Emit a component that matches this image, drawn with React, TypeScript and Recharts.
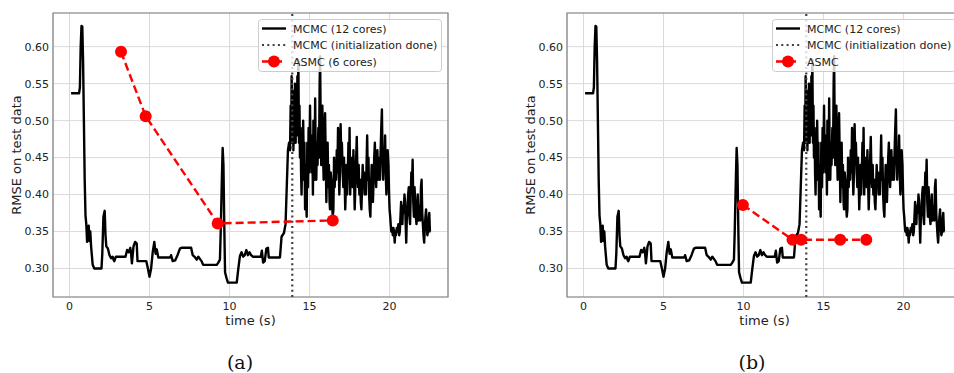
import React from 'react';
import { LineChart, Line, XAxis, YAxis, CartesianGrid, ReferenceLine, ReferenceArea, Legend } from 'recharts';

// MCMC (12 cores): [time (s), RMSE]
const mcmcPoints: [number, number][] = [
  [0.1,0.537],[0.6,0.537],[0.65,0.545],[0.7,0.6],[0.75,0.628],[0.8,0.627],[0.85,0.58],[0.9,0.5],[0.95,0.42],[1.0,0.372],
  [1.05,0.36],[1.1,0.336],[1.15,0.352],[1.2,0.358],[1.25,0.337],[1.3,0.35],[1.35,0.33],[1.45,0.305],[1.55,0.3],[2.0,0.3],
  [2.05,0.32],[2.12,0.37],[2.2,0.378],[2.25,0.345],[2.3,0.33],[2.4,0.327],[2.5,0.318],[2.6,0.314],[2.7,0.316],[2.75,0.312],
  [2.8,0.31],[2.9,0.316],[3.5,0.316],[3.6,0.325],[3.7,0.322],[3.8,0.328],[3.85,0.32],[3.9,0.307],[3.95,0.318],[4.0,0.33],
  [4.1,0.336],[4.2,0.334],[4.25,0.31],[4.8,0.31],[4.9,0.3],[5.0,0.289],[5.1,0.3],[5.2,0.322],[5.3,0.336],[5.38,0.32],
  [5.45,0.326],[5.55,0.315],[6.3,0.315],[6.35,0.318],[6.45,0.31],[6.6,0.311],[6.75,0.318],[6.9,0.327],[7.0,0.328],[7.6,0.328],
  [7.7,0.318],[7.85,0.315],[7.95,0.312],[8.05,0.316],[8.15,0.313],[8.25,0.31],[8.35,0.305],[9.2,0.305],[9.3,0.308],[9.4,0.312],
  [9.45,0.35],[9.52,0.42],[9.57,0.463],[9.62,0.44],[9.67,0.36],[9.72,0.295],[9.8,0.288],[9.9,0.281],[10.45,0.281],[10.55,0.3],
  [10.65,0.317],[10.75,0.322],[10.85,0.316],[10.95,0.318],[11.05,0.325],[11.15,0.318],[11.25,0.322],[11.35,0.318],[11.45,0.316],[11.95,0.316],
  [12.02,0.324],[12.1,0.308],[12.2,0.31],[12.3,0.327],[12.4,0.328],[12.45,0.315],[13.15,0.315],[13.25,0.343],[13.4,0.348],[13.5,0.36],
  [13.57,0.407],[13.65,0.46],[13.72,0.47],[13.78,0.46],[13.82,0.52],[13.85,0.47],[13.88,0.56],[13.92,0.5],[13.95,0.54],[13.99,0.46],
  [14.03,0.52],[14.06,0.49],[14.09,0.55],[14.13,0.47],[14.17,0.53],[14.2,0.48],[14.24,0.56],[14.27,0.5],[14.3,0.582],[14.34,0.47],
  [14.37,0.52],[14.4,0.45],[14.44,0.49],[14.47,0.43],[14.5,0.4],[14.54,0.46],[14.57,0.42],[14.6,0.5],[14.64,0.44],[14.68,0.47],
  [14.72,0.38],[14.76,0.44],[14.79,0.39],[14.82,0.37],[14.86,0.47],[14.9,0.41],[14.94,0.49],[14.98,0.43],[15.03,0.52],[15.07,0.45],
  [15.1,0.48],[15.14,0.43],[15.18,0.46],[15.21,0.4],[15.24,0.5],[15.28,0.44],[15.31,0.42],[15.35,0.53],[15.38,0.46],[15.42,0.42],
  [15.46,0.47],[15.5,0.44],[15.55,0.49],[15.59,0.45],[15.63,0.55],[15.66,0.587],[15.7,0.48],[15.73,0.44],[15.77,0.5],[15.8,0.52],
  [15.84,0.46],[15.88,0.42],[15.92,0.47],[15.97,0.51],[16.01,0.45],[16.05,0.39],[16.09,0.44],[16.13,0.47],[16.17,0.41],[16.21,0.44],
  [16.25,0.39],[16.28,0.38],[16.32,0.43],[16.36,0.42],[16.4,0.39],[16.45,0.37],[16.49,0.38],[16.53,0.45],[16.57,0.41],[16.61,0.44],
  [16.66,0.42],[16.7,0.46],[16.74,0.43],[16.78,0.49],[16.82,0.44],[16.86,0.4],[16.9,0.43],[16.94,0.495],[16.98,0.45],[17.02,0.47],
  [17.07,0.43],[17.11,0.41],[17.15,0.45],[17.19,0.42],[17.23,0.38],[17.27,0.41],[17.31,0.44],[17.35,0.4],[17.39,0.43],[17.43,0.47],
  [17.47,0.43],[17.5,0.49],[17.54,0.4],[17.58,0.44],[17.62,0.42],[17.66,0.45],[17.7,0.41],[17.74,0.46],[17.78,0.42],[17.82,0.38],
  [17.86,0.41],[17.9,0.44],[17.95,0.478],[17.99,0.43],[18.03,0.41],[18.07,0.44],[18.11,0.4],[18.16,0.42],[18.2,0.39],[18.24,0.38],
  [18.28,0.41],[18.32,0.44],[18.36,0.41],[18.4,0.43],[18.44,0.4],[18.48,0.42],[18.52,0.4],[18.56,0.44],[18.6,0.48],[18.64,0.42],
  [18.68,0.45],[18.72,0.4],[18.76,0.38],[18.8,0.37],[18.84,0.41],[18.88,0.44],[18.92,0.4],[18.96,0.39],[19.0,0.42],[19.04,0.45],
  [19.08,0.47],[19.12,0.43],[19.16,0.41],[19.2,0.44],[19.24,0.46],[19.28,0.42],[19.32,0.45],[19.36,0.43],[19.4,0.42],[19.44,0.46],
  [19.48,0.49],[19.52,0.515],[19.56,0.45],[19.6,0.42],[19.64,0.46],[19.68,0.44],[19.72,0.48],[19.76,0.43],[19.8,0.4],[19.84,0.42],
  [19.88,0.46],[19.93,0.44],[19.97,0.4],[20.0,0.38],[20.04,0.37],[20.07,0.36],[20.11,0.35],[20.15,0.355],[20.2,0.345],[20.24,0.355],
  [20.28,0.35],[20.32,0.335],[20.36,0.35],[20.4,0.345],[20.45,0.355],[20.5,0.35],[20.55,0.36],[20.6,0.345],[20.64,0.35],[20.68,0.37],
  [20.72,0.39],[20.76,0.37],[20.8,0.36],[20.84,0.385],[20.88,0.375],[20.93,0.4],[20.97,0.39],[21.0,0.365],[21.04,0.335],[21.08,0.37],
  [21.12,0.38],[21.16,0.4],[21.2,0.41],[21.24,0.37],[21.28,0.36],[21.32,0.4],[21.36,0.43],[21.4,0.41],[21.44,0.447],[21.48,0.39],
  [21.52,0.37],[21.56,0.41],[21.6,0.39],[21.64,0.37],[21.68,0.36],[21.72,0.38],[21.76,0.4],[21.8,0.365],[21.84,0.37],[21.88,0.385],
  [21.92,0.365],[21.96,0.41],[22.0,0.42],[22.04,0.375],[22.08,0.36],[22.12,0.345],[22.16,0.335],[22.2,0.355],[22.24,0.37],[22.28,0.38],
  [22.32,0.36],[22.36,0.345],[22.4,0.35],[22.44,0.365],[22.48,0.375],[22.52,0.35],[22.55,0.35],
];

// ASMC series
const asmcATime = [3.22, 4.76, 9.26, 16.45];
const asmcARmse = [0.593, 0.506, 0.361, 0.365];
const asmcBTime = [9.96, 13.06, 13.6, 16.04, 17.67];
const asmcBRmse = [0.386, 0.339, 0.339, 0.339, 0.339];

const initDoneTime = 13.92;
const xTicks = [0, 5, 10, 15, 20];
const yTicks = [0.3, 0.35, 0.4, 0.45, 0.5, 0.55, 0.6];
const xDomain: [number, number] = [-1.03, 23.65];
const yDomain: [number, number] = [0.2615, 0.6455];

const mcmcData = mcmcPoints.map(([t, v]) => ({ t, v }));
const asmcAData = asmcATime.map((t, i) => ({ t, v: asmcARmse[i] }));
const asmcBData = asmcBTime.map((t, i) => ({ t, v: asmcBRmse[i] }));

const FONT = "'DejaVu Sans', sans-serif";

const LegendBox = ({ asmcLabel }: { asmcLabel: string }) => (
  <svg width={184} height={53} style={{ display: 'block', overflow: 'visible' }}>
    <rect x={0.5} y={0.5} width={183} height={52} rx={3} ry={3} fill="#ffffff" fillOpacity={0.8} stroke="#cccccc" strokeWidth={1} />
    <line x1={4} x2={28} y1={9.5} y2={9.5} stroke="#000" strokeWidth={2.4} />
    <text x={35} y={13.5} fontSize={11} fill="#222" fontFamily={FONT}>MCMC (12 cores)</text>
    <line x1={4} x2={28} y1={26} y2={26} stroke="#404040" strokeWidth={2.2} strokeDasharray="2 3.3" />
    <text x={35} y={30} fontSize={11} fill="#222" fontFamily={FONT}>MCMC (initialization done)</text>
    <line x1={4} x2={28} y1={42.5} y2={42.5} stroke="#ff0000" strokeWidth={2.4} strokeDasharray="8 4" />
    <circle cx={16} cy={42.5} r={6} fill="#ff0000" />
    <text x={35} y={46.5} fontSize={11} fill="#222" fontFamily={FONT}>{asmcLabel}</text>
  </svg>
);

const XLabel = () => (
  <text x={250.5} y={325} textAnchor="middle" fontSize={13} fill="#222" fontFamily={FONT}>time (s)</text>
);
const YLabel = () => (
  <text x={21} y={155} transform="rotate(-90 21 155)" textAnchor="middle" fontSize={13} fill="#222" fontFamily={FONT}>
    RMSE on test data
  </text>
);

const Panel = ({ asmcData, asmcLabel }: { asmcData: { t: number; v: number }[]; asmcLabel: string }) => (
  <LineChart width={470} height={373} margin={{ top: 13, right: 22, bottom: 0, left: 0 }} style={{ fontFamily: FONT }}>
    <CartesianGrid stroke="#dadada" strokeWidth={1} />
    <XAxis
      type="number"
      dataKey="t"
      domain={xDomain}
      ticks={xTicks}
      allowDataOverflow
      interval={0}
      height={76}
      tickLine={false}
      axisLine={false}
      tickSize={0}
      tickMargin={5}
      tick={{ fontSize: 11, fill: '#222', fontFamily: FONT }}
      label={XLabel}
    />
    <YAxis
      type="number"
      dataKey="v"
      domain={yDomain}
      ticks={yTicks}
      allowDataOverflow
      interval={0}
      width={53}
      tickLine={false}
      axisLine={false}
      tickSize={0}
      tickMargin={4}
      tickFormatter={(v: number) => v.toFixed(2)}
      tick={{ fontSize: 11, fill: '#222', fontFamily: FONT }}
      label={YLabel}
    />
    <ReferenceArea x1={xDomain[0]} x2={xDomain[1]} y1={yDomain[0]} y2={yDomain[1]} fill="none" stroke="#808080" strokeWidth={1.2} ifOverflow="visible" />
    <Line data={mcmcData} dataKey="v" stroke="#000" strokeWidth={2.4} dot={false} isAnimationActive={false} strokeLinejoin="round" />
    <ReferenceLine x={initDoneTime} stroke="#404040" strokeWidth={2.2} strokeDasharray="2 3.3" />
    <Line
      data={asmcData}
      dataKey="v"
      stroke="#ff0000"
      strokeWidth={2.4}
      strokeDasharray="8 4"
      dot={{ r: 6, fill: '#ff0000', stroke: '#ff0000', strokeWidth: 0, strokeDasharray: '' }}
      isAnimationActive={false}
    />
    <Legend
      layout="vertical"
      align="center"
      verticalAlign="middle"
      wrapperStyle={{ left: 258, top: 19, width: 184, height: 53 }}
      content={() => <LegendBox asmcLabel={asmcLabel} />}
    />
  </LineChart>
);

export default function App() {
  return (
    <div style={{ position: 'absolute', left: 0, top: 0, width: 954, height: 373, overflow: 'hidden', background: '#fff', fontFamily: FONT }}>
      <div style={{ position: 'absolute', left: 0, top: 0 }}>
        <Panel asmcData={asmcAData} asmcLabel="ASMC (6 cores)" />
      </div>
      <div style={{ position: 'absolute', left: 514, top: 0 }}>
        <Panel asmcData={asmcBData} asmcLabel="ASMC" />
      </div>
      <div style={{ position: 'absolute', left: 190, top: 351, width: 100, textAlign: 'center', fontFamily: "'DejaVu Serif', serif", fontSize: 19, lineHeight: '22px', color: '#111' }}>(a)</div>
      <div style={{ position: 'absolute', left: 702, top: 351, width: 100, textAlign: 'center', fontFamily: "'DejaVu Serif', serif", fontSize: 19, lineHeight: '22px', color: '#111' }}>(b)</div>
    </div>
  );
}
